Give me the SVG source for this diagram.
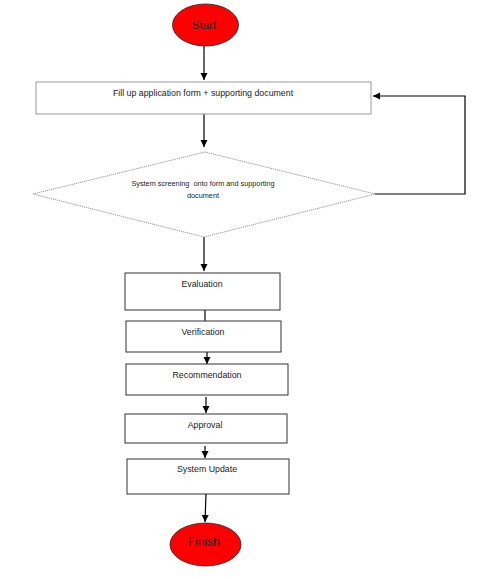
<svg xmlns="http://www.w3.org/2000/svg" width="500" height="579" viewBox="0 0 500 579">
<defs>
<marker id="ah" markerWidth="8" markerHeight="8" refX="7" refY="4" orient="auto" markerUnits="userSpaceOnUse">
<path d="M0,0.5 L7,4 L0,7.5 Z" fill="#000"/>
</marker>
</defs>
<style>
.box{fill:#fff;stroke:#333;stroke-width:1}
.term{fill:#f00;stroke:#222;stroke-width:0.8}
.lbl{font-family:"Liberation Sans",Arial,sans-serif;font-size:8.8px;fill:#222;text-anchor:middle}
.tl{font-family:"Liberation Sans",Arial,sans-serif;font-size:11.5px;fill:#111;text-anchor:middle}
.conn{fill:none;stroke:#000;stroke-width:1.2}
</style>
<rect width="500" height="579" fill="#fff"/>
<g id="connectors">
<line class="conn" x1="204" y1="46" x2="204" y2="80" marker-end="url(#ah)"/>
<line class="conn" x1="204" y1="114" x2="204" y2="147" marker-end="url(#ah)"/>
<polyline class="conn" points="375,194 465,194 465,96 373,96" marker-end="url(#ah)"/>
<line class="conn" x1="204" y1="237" x2="204" y2="271" marker-end="url(#ah)"/>
<line class="conn" x1="205" y1="310" x2="205" y2="321"/>
<line class="conn" x1="207" y1="352" x2="207" y2="364" marker-end="url(#ah)"/>
<line class="conn" x1="206" y1="397" x2="206" y2="413" marker-end="url(#ah)"/>
<line class="conn" x1="205" y1="446" x2="205" y2="458" marker-end="url(#ah)"/>
<line class="conn" x1="206" y1="494" x2="205" y2="522" marker-end="url(#ah)"/>
</g>
<g id="start">
<ellipse class="term" cx="205.5" cy="25" rx="33" ry="21"/>
<text class="tl" x="204" y="28.5">Start</text>
</g>
<g id="fill-form">
<rect x="36" y="82" width="335" height="32" fill="#fff" stroke="#999" stroke-width="1"/>
<text class="lbl" x="203" y="96">Fill up application form + supporting document</text>
</g>
<g id="screening">
<polygon points="205,152 375,194 204,237 33,194" fill="#fff" stroke="#999" stroke-width="1" stroke-dasharray="1.2,0.8"/>
<text class="lbl" style="font-size:7.3px;white-space:pre" xml:space="preserve" x="203" y="186">System screening  onto form and supporting</text>
<text class="lbl" style="font-size:7.3px" x="203" y="198">document</text>
</g>
<g id="evaluation">
<rect class="box" x="125" y="273" width="155" height="37"/>
<text class="lbl" x="202" y="287">Evaluation</text>
</g>
<g id="verification">
<rect class="box" x="126" y="321" width="155" height="31"/>
<text class="lbl" x="203" y="335">Verification</text>
</g>
<g id="recommendation">
<rect class="box" x="126" y="364" width="162" height="31"/>
<text class="lbl" x="207" y="378">Recommendation</text>
</g>
<g id="approval">
<rect class="box" x="125" y="414" width="162" height="29"/>
<text class="lbl" x="205" y="428">Approval</text>
</g>
<g id="system-update">
<rect class="box" x="127" y="459" width="162" height="35"/>
<text class="lbl" x="207" y="472">System Update</text>
</g>
<g id="finish">
<ellipse class="term" cx="205.5" cy="544.5" rx="35.5" ry="21.5"/>
<text class="tl" style="font-size:12px" x="204" y="546">Finish</text>
</g>
</svg>
